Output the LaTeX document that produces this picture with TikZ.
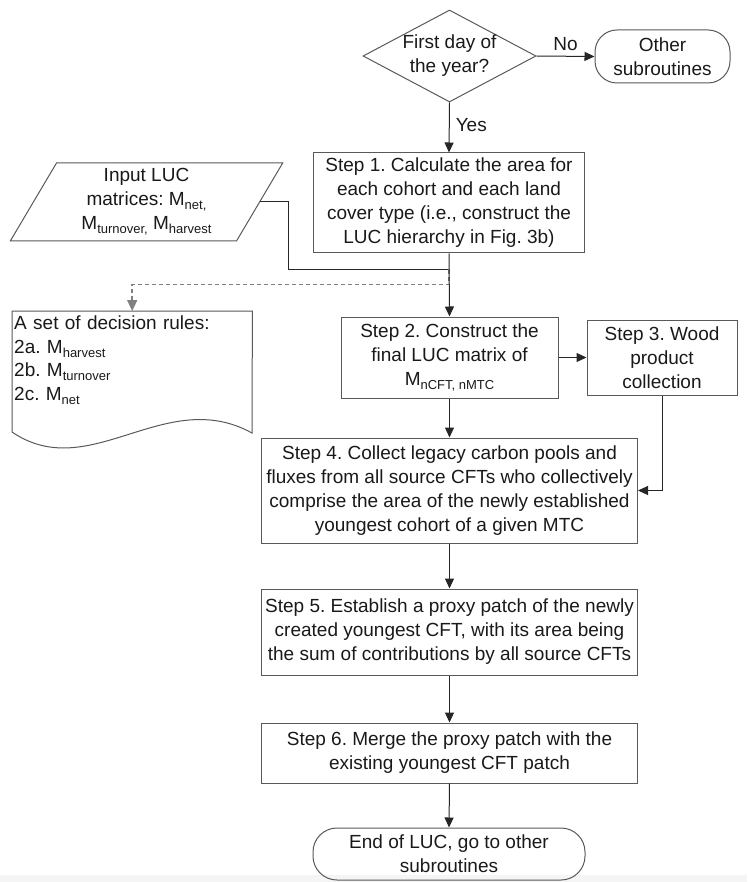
\documentclass[tikz,border=0pt]{standalone}
\usepackage{fontspec}
\setmainfont{Liberation Sans}
\usetikzlibrary{shapes.geometric,arrows.meta,calc}
\newcommand\lsub[1]{\raisebox{-0.2em}{\fontsize{13}{13}\selectfont #1}}
\frenchspacing
\begin{document}
\begin{tikzpicture}[x=1pt,y=-1pt,
  every node/.style={font=\fontsize{19}{24}\selectfont, text=black!90},
  boxline/.style={draw=black!65, line width=1pt},
  box/.style={boxline, rectangle, align=center, inner sep=0pt},
  conn/.style={draw=black!85, line width=1pt, -{Triangle[length=10pt,width=9pt]}},
  plain/.style={draw=black!85, line width=1pt},
  dashconn/.style={draw=black!50, line width=1.5pt, dash pattern=on 4pt off 3pt, -{Triangle[length=11pt,width=10pt]}},
  lbl/.style={inner sep=0pt}
]
\fill[black!4] (0,875) rectangle (747,882);
\useasboundingbox (0,0) rectangle (747,882);

\node[diamond, boxline, aspect=1.88, inner sep=0pt, align=center, minimum width=173, minimum height=92] (dec) at (449.5,56) {First day of\\the year?};
\node[box, rounded corners=22, minimum width=135, minimum height=53] (other) at (662.5,56.5) {Other\\subroutines};
\node[box, minimum width=271, minimum height=100] (s1) at (449,203) {Step 1. Calculate the area for\\each cohort and each land\\cover type (i.e., construct the\\LUC hierarchy in Fig. 3b)};

\node[trapezium, trapezium left angle=63.4, trapezium right angle=116.6, trapezium stretches=true, boxline, minimum width=273, minimum height=78, align=center, inner sep=0pt] (inp) at (146.5,202) {Input LUC\\matrices: M\lsub{net,}\\M\lsub{turnover,} M\lsub{harvest}};

\node[anchor=north west, text width=236, inner xsep=2pt, inner ysep=5pt, align=left, font=\fontsize{19}{23.5}\selectfont] (rules) at (12,311) {A set of decision rules:\\2a. M\lsub{harvest}\\2b. M\lsub{turnover}\\2c. M\lsub{net}};
\draw[boxline] (rules.north west) -- (rules.north east) -- (252,433) .. controls (165,385) and (90,485) .. (12,432) -- cycle;

\node[box, minimum width=217, minimum height=81] (s2) at (449.5,357.5) {Step 2. Construct the\\final LUC matrix of\\M\lsub{nCFT, nMTC}};
\node[box, minimum width=150, minimum height=75] (s3) at (662,357.5) {Step 3. Wood\\product\\collection};
\node[box, minimum width=376, minimum height=105] (s4) at (449.5,490.5) {Step 4. Collect legacy carbon pools and\\fluxes from all source CFTs who collectively\\comprise the area of the newly established\\youngest cohort of a given MTC};
\node[box, minimum width=376, minimum height=86] (s5) at (449.5,632) {Step 5. Establish a proxy patch of the newly\\created youngest CFT, with its area being\\the sum of contributions by all source CFTs};
\node[box, minimum width=376, minimum height=60] (s6) at (449.5,753) {Step 6. Merge the proxy patch with the\\existing youngest CFT patch};
\node[box, rounded corners=24, minimum width=272, minimum height=52] (end) at (449,854) {End of LUC, go to other\\subroutines};

% connectors
\draw[conn] (dec.south) -- node[lbl, anchor=west, xshift=6pt, pos=0.45] {Yes} (s1.north);
\draw[conn] (dec.east) -- node[lbl, above=5pt] {No} (other.west);
\coordinate (inpR) at ($(inp.top right corner)!0.5!(inp.bottom right corner)$);
\coordinate (j) at ($(s1.south)+(0,16)$);
\coordinate (d) at ($(s1.south)+(0,31)$);
\draw[plain] (inpR) -- ++(28,0) |- (j);
\draw[dashconn] (j) -- (d) -| (rules.north);
\draw[conn] (s1.south) -- (s2.north);
\draw[conn] (s2.east) -- (s3.west);
\draw[conn] (s3.south) |- (s4.east);
\draw[conn] (s2.south) -- (s4.north);
\draw[conn] (s4.south) -- (s5.north);
\draw[conn] (s5.south) -- (s6.north);
\draw[conn] (s6.south) -- (end.north);
\end{tikzpicture}
\end{document}
